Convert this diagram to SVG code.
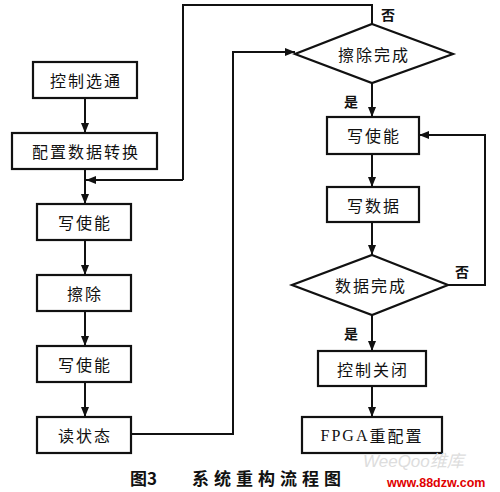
<svg xmlns="http://www.w3.org/2000/svg" width="500" height="492" viewBox="0 0 500 492">
<style>
.box{fill:#fff;stroke:#111;stroke-width:2.2}
.t{font-family:"Noto Sans CJK SC","Liberation Sans",sans-serif;font-size:16px;fill:#111;text-anchor:middle;dominant-baseline:central;letter-spacing:2px}
.l{font-family:"Noto Sans CJK SC",sans-serif;font-size:14px;fill:#111;font-weight:bold}
.c{fill:none;stroke:#111;stroke-width:2}
.cap{font-family:"Noto Sans CJK SC",serif;font-size:17px;font-weight:bold;fill:#111}
</style>
<defs>
<marker id="a" viewBox="0 0 10 10" refX="10" refY="5" markerWidth="6" markerHeight="5" orient="auto" markerUnits="strokeWidth">
<path d="M0,1 L10,5 L0,9 Z" fill="#111"/>
</marker>
</defs>
<rect width="500" height="492" fill="#fff"/>
<g id="connectors">
<path class="c" d="M85,98 V133" marker-end="url(#a)"/>
<path class="c" d="M85,169 V204" marker-end="url(#a)"/>
<path class="c" d="M183,180 H86" marker-end="url(#a)"/>
<path class="c" d="M183,180 V5 H372 V24"/>
<path class="c" d="M85,240 V275" marker-end="url(#a)"/>
<path class="c" d="M85,311 V346" marker-end="url(#a)"/>
<path class="c" d="M85,382 V417" marker-end="url(#a)"/>
<path class="c" d="M131,434 H233 V52 H295" marker-end="url(#a)"/>
<path class="c" d="M372,83 V117" marker-end="url(#a)"/>
<path class="c" d="M372,154 V187" marker-end="url(#a)"/>
<path class="c" d="M372,222 V255" marker-end="url(#a)"/>
<path class="c" d="M448,285 H485 V135 H419" marker-end="url(#a)"/>
<path class="c" d="M372,315 V351" marker-end="url(#a)"/>
<path class="c" d="M372,386 V417" marker-end="url(#a)"/>
</g>
<g id="n1"><rect class="box" x="33" y="62" width="104" height="36"/><text class="t" x="86" y="80">控制选通</text></g>
<g id="n2"><rect class="box" x="12" y="133" width="145" height="36"/><text class="t" x="86" y="151" letter-spacing="3">配置数据转换</text></g>
<g id="n3"><rect class="box" x="37" y="204" width="94" height="36"/><text class="t" x="85" y="222">写使能</text></g>
<g id="n4"><rect class="box" x="37" y="275" width="94" height="36"/><text class="t" x="85" y="293">擦除</text></g>
<g id="n5"><rect class="box" x="37" y="346" width="94" height="36"/><text class="t" x="85" y="364">写使能</text></g>
<g id="n6"><rect class="box" x="37" y="417" width="94" height="36"/><text class="t" x="85" y="435">读状态</text></g>
<g id="d1"><polygon class="box" points="372,24 453,54 372,83 295,54"/><text class="t" x="374" y="54">擦除完成</text>
<text class="l" x="381" y="20">否</text><text class="l" x="344" y="107">是</text></g>
<g id="n7"><rect class="box" x="327" y="117" width="92" height="37"/><text class="t" x="374" y="135">写使能</text></g>
<g id="n8"><rect class="box" x="327" y="187" width="92" height="35"/><text class="t" x="374" y="205">写数据</text></g>
<g id="d2"><polygon class="box" points="372,255 448,285 372,315 292,285"/><text class="t" x="371" y="285">数据完成</text>
<text class="l" x="455" y="277">否</text><text class="l" x="344" y="339">是</text></g>
<g id="n9"><rect class="box" x="318" y="351" width="108" height="35"/><text class="t" x="373" y="369">控制关闭</text></g>
<g id="n10"><rect class="box" x="302" y="417" width="140" height="36"/><text class="t" x="372" y="435" letter-spacing="1" style="font-family:'Liberation Serif','Noto Sans CJK SC',serif">FPGA<tspan style="font-family:'Noto Sans CJK SC',sans-serif">重配置</tspan></text></g>
<text class="cap" x="130" y="485">图3</text>
<text class="cap" x="192" y="485" letter-spacing="5">系统重构流程图</text>
<text x="363" y="467" font-family="Liberation Sans,Noto Sans CJK SC,sans-serif" font-size="17" font-style="italic" fill="#ddd">WeeQoo维库</text>
<text x="387" y="487" font-family="Liberation Sans,sans-serif" font-size="12.5" font-weight="bold" fill="#e00000">www.88dzw.com</text>
</svg>
